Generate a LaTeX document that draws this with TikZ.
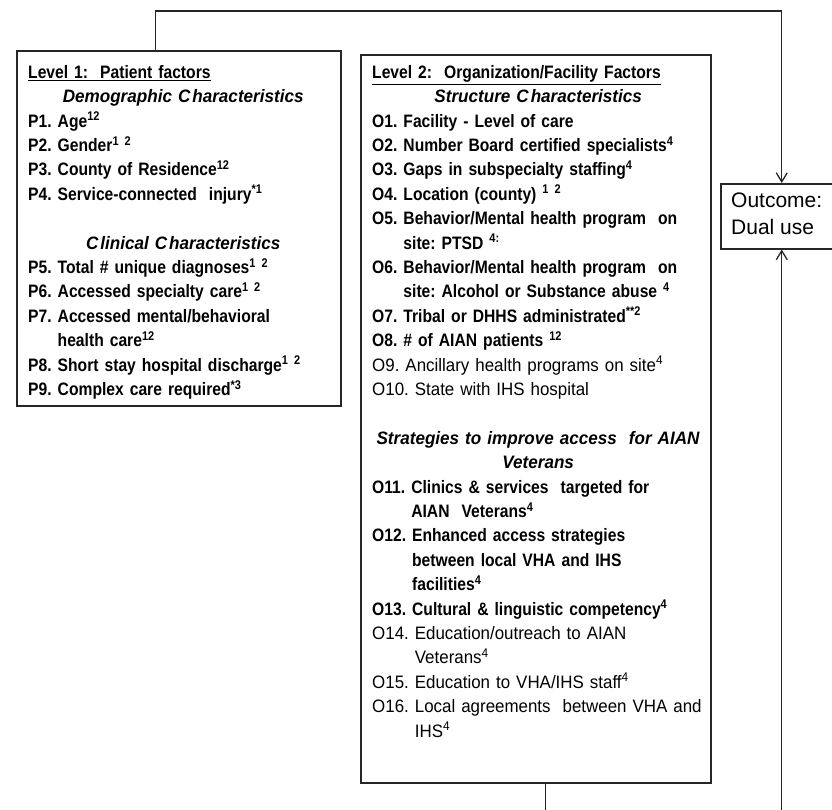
\documentclass[tikz,border=0pt]{standalone}
\usepackage{fontspec}
\setmainfont{Liberation Sans}[UprightFeatures={FakeStretch=0.94},BoldFeatures={FakeStretch=0.87},BoldItalicFeatures={FakeStretch=0.95}]
\newfontfamily\outfont{Liberation Sans}
\usetikzlibrary{arrows.meta}
\frenchspacing
\newcommand{\sups}[1]{\textsuperscript{#1}}
\newcommand{\midline}[1]{\makebox[\linewidth][c]{\textit{#1}}}
\newcommand{\headline}[1]{\leavevmode\vtop{\hbox{#1}\kern1.6pt\hrule height 1.3pt}}

\begin{document}
\begin{tikzpicture}[x=1pt,y=-1pt,
	factorbox/.style={draw=black!85,line width=1.5pt,anchor=north west,inner sep=0pt},
	factortext/.style={anchor=north west,align=left,inner sep=0pt,font=\bfseries\fontsize{18}{24.4}\selectfont},
	link/.style={draw=black!85,line width=1.3pt},
	tip/.style={-{Straight Barb[length=9pt,width=11pt,line width=1.3pt]}}]
	\useasboundingbox (0,0) rectangle (832,809);

	% the three boxes
	\node[factorbox,minimum width=324pt,minimum height=355pt] (lvl1) at (16,50) {};
	\node[factorbox,minimum width=350pt,minimum height=728pt] (lvl2) at (360,54) {};
	\node[factorbox,minimum width=122pt,minimum height=65pt] (out) at (720,183) {};

	% level 1
	\node[factortext,text width=310pt] (lvl1txt) at (28,65) {%
		\headline{Level 1:\ \ Patient factors}\\
		\midline{Demographic C\kern2ptharacteristics}\\
		P1. Age\sups{12}\\
		P2. Gender\sups{1 2}\\
		P3. County of Residence\sups{12}\\
		P4. Service-connected\ \ injury\sups{*1}\\[24.4pt]
		\midline{C\kern2ptlinical C\kern2ptharacteristics}\\
		P5. Total \# unique diagnoses\sups{1 2}\\
		P6. Accessed specialty care\sups{1 2}\\
		P7. Accessed mental/behavioral\\
		\phantom{P7.\ }health care\sups{12}\\
		P8. Short stay hospital discharge\sups{1 2}\\
		P9. Complex care required\sups{*3}};

	% level 2
	\node[factortext,text width=332pt] (lvl2txt) at (372,65) {%
		\headline{Level 2:\ \ Organization/Facility Factors}\\
		\midline{Structure C\kern2ptharacteristics}\\
		O1. Facility - Level of care\\
		O2. Number Board certified specialists\sups{4}\\
		O3. Gaps in subspecialty staffing\sups{4}\\
		O4. Location (county) \sups{1 2}\\
		O5. Behavior/Mental health program\ \ on\\
		\phantom{O5.\ }site: PTSD \sups{4:}\\
		O6. Behavior/Mental health program\ \ on\\
		\phantom{O6.\ }site: Alcohol or Substance abuse \sups{4}\\
		O7. Tribal or DHHS administrated\sups{**2}\\
		O8. \# of AIAN patients \sups{12}\\
		{\mdseries O9. Ancillary health programs on site\sups{4}}\\
		{\mdseries O10. State with IHS hospital}\\[24.4pt]
		\midline{Strategies to improve access\ \ for AIAN}\\
		\midline{Veterans}\\
		O11. Clinics \& services\ \ targeted for\\
		\phantom{O11.\ }AIAN\ \ Veterans\sups{4}\\
		O12. Enhanced access strategies\\
		\phantom{O12.\ }between local VHA and IHS\\
		\phantom{O12.\ }facilities\sups{4}\\
		O13. Cultural \& linguistic competency\sups{4}\\
		{\mdseries O14. Education/outreach to AIAN}\\
		{\mdseries\phantom{O14.\ }Veterans\sups{4}}\\
		{\mdseries O15. Education to VHA/IHS staff\sups{4}}\\
		{\mdseries O16. Local agreements\ \ between VHA and}\\
		{\mdseries\phantom{O16.\ }IHS\sups{4}}};

	% outcome
	\node[anchor=north west,align=left,inner sep=0pt,font=\outfont\fontsize{21}{27}\selectfont] (outtxt) at (731,193) {Outcome:\\Dual use};

	% connectors
	\draw[link,tip] ([xshift=-23pt]lvl1.north) -- ++(0,-39) -| (out.north);
	\draw[link,tip] ([xshift=10pt]lvl2.south) -- ++(0,60) -| (out.south);
\end{tikzpicture}
\end{document}
